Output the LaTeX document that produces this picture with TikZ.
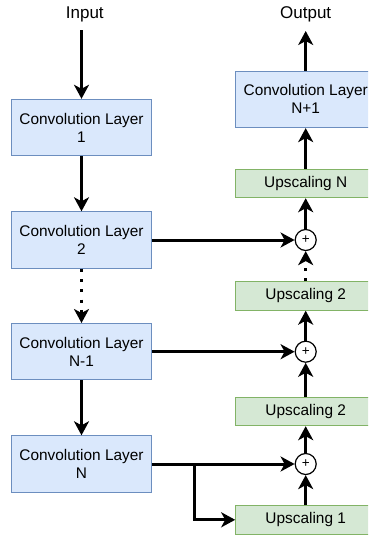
\documentclass[tikz,border=0pt]{standalone}
\usepackage{fontspec}
\setmainfont{Liberation Sans}
\usetikzlibrary{arrows.meta}
\definecolor{convfill}{HTML}{DAE8FC}
\definecolor{convline}{HTML}{6C8EBF}
\definecolor{upsfill}{HTML}{D5E8D4}
\definecolor{upsline}{HTML}{82B366}
\tikzset{
  conv/.style={draw=convline, fill=convfill, line width=1pt, minimum width=140pt,
    minimum height=56.4pt, align=center, inner sep=0pt,
    font=\fontsize{15.4}{18}\selectfont},
  ups/.style={draw=upsline, fill=upsfill, line width=1pt, minimum width=140pt,
    minimum height=28.4pt, inner sep=0pt, font=\fontsize{15.4}{18}\selectfont},
  sum/.style={circle, draw, line width=1.2pt, fill=white, minimum size=21pt,
    inner sep=0pt, font=\fontsize{13.5}{13.5}\selectfont},
  lbl/.style={inner sep=0pt, font=\fontsize{17}{20}\selectfont},
  arr/.style={line width=3pt, -{Stealth[length=14pt,width=15pt,inset=4pt]}},
  dotline/.style={arr, dash pattern=on 3pt off 7.3pt},
}
\begin{document}
\begin{tikzpicture}[x=1pt,y=-1pt]
\useasboundingbox (0,0) rectangle (368,536);
\clip (0,0) rectangle (368,536);

% encoder column
\node[lbl] (in) at (84.8,14) {Input};
\coordinate (inend) at (81.5,30);
\node[conv] (c1)  at (81.5,127.5) {Convolution Layer\\1};
\node[conv] (c2)  at (81.5,240)   {Convolution Layer\\2};
\node[conv] (cm1) at (81.5,351.7) {Convolution Layer\\N-1};
\node[conv] (cn)  at (81.5,464)   {Convolution Layer\\N};

% decoder column
\node[lbl] (out) at (305.7,14) {Output};
\coordinate (outend) at (305.7,31);
\node[conv] (cp1) at (305.7,99.4)  {Convolution Layer\\N+1};
\node[ups]  (uN)  at (305.7,183.5) {Upscaling N};
\node[sum]  (s1)  at (305.7,240)   {+};
\node[ups]  (u2a) at (305.7,296)   {Upscaling 2};
\node[sum]  (s2)  at (305.7,351.7) {+};
\node[ups]  (u2b) at (305.7,411.5) {Upscaling 2};
\node[sum]  (s3)  at (305.7,464)   {+};
\node[ups]  (u1)  at (305.7,519.8) {Upscaling 1};

% encoder flow
\draw[arr] (inend) -- (c1.north);
\draw[arr] (c1.south) -- (c2.north);
\draw[dotline] (c2.south) -- (cm1.north);
\draw[arr] (cm1.south) -- (cn.north);

% skip connections
\draw[arr] (c2.east) -- (s1.west);
\draw[arr] (cm1.east) -- (s2.west);
\draw[arr] (cn.east) -- (s3.west);
\coordinate (split) at (194,464);
\draw[arr] (split) |- (u1.west);

% decoder flow
\draw[arr] (u1.north) -- (s3.south);
\draw[arr] (s3.north) -- (u2b.south);
\draw[arr] (u2b.north) -- (s2.south);
\draw[arr] (s2.north) -- (u2a.south);
\draw[dotline] (u2a.north) -- (s1.south);
\draw[arr] (s1.north) -- (uN.south);
\draw[arr] (uN.north) -- (cp1.south);
\draw[arr] (cp1.north) -- (outend);
\end{tikzpicture}
\end{document}
